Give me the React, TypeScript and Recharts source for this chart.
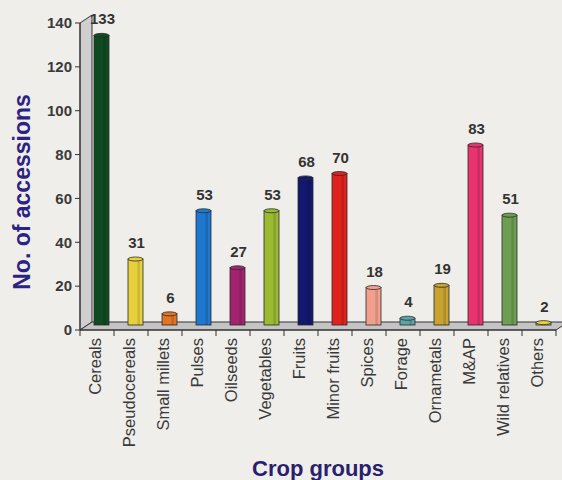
import React from "react";
import {
  BarChart,
  Bar,
  XAxis,
  YAxis,
  Cell,
  LabelList,
  ReferenceArea,
} from "recharts";

const categories = [
  "Cereals",
  "Pseudocereals",
  "Small millets",
  "Pulses",
  "Oilseeds",
  "Vegetables",
  "Fruits",
  "Minor fruits",
  "Spices",
  "Forage",
  "Ornametals",
  "M&AP",
  "Wild relatives",
  "Others",
];
const accessions = [133, 31, 6, 53, 27, 53, 68, 70, 18, 4, 19, 83, 51, 2];
const barColors = [
  "#0f4a22",
  "#e6d13c",
  "#e27424",
  "#1f78cf",
  "#a22470",
  "#9bba32",
  "#12186e",
  "#e0221f",
  "#f2a08e",
  "#5da3aa",
  "#c9a232",
  "#e8336e",
  "#6e9e52",
  "#e8d236",
];
const yTicks = [0, 20, 40, 60, 80, 100, 120, 140];

const data = categories.map((name, i) => ({ name, value: accessions[i] }));

// small 3D shift so bars sit in the middle of the floor
const DX = 4;
const DY = -5;

const CylinderBar = (props: any) => {
  const { x, y, width, height, fill } = props;
  if (height <= 0) return null;
  const ry = 2;
  return (
    <g>
      <rect
        x={x + DX}
        y={y + DY + ry}
        width={width}
        height={height - ry}
        fill={fill}
        stroke="#2a2a2a"
        strokeWidth={0.8}
      />
      <rect x={x + DX + width * 0.62} y={y + DY + ry} width={width * 0.18} height={height - ry} fill="#000" opacity={0.12} />
      <ellipse
        cx={x + DX + width / 2}
        cy={y + DY + ry}
        rx={width / 2}
        ry={ry}
        fill={fill}
        stroke="#2a2a2a"
        strokeWidth={0.8}
      />
    </g>
  );
};

const FloorAndWall = (props: any) => {
  const { x, y, width, height } = props;
  const yb = y + height;
  const d = 12;
  const h = 8;
  const n = categories.length;
  return (
    <g>
      <polygon
        points={`${x},${yb} ${x},${y} ${x + d},${y - h} ${x + d},${yb - h}`}
        fill="#cfcfcf"
        stroke="#333"
        strokeWidth={1}
      />
      <polygon
        points={`${x},${yb} ${x + width},${yb} ${x + width + d},${yb - h} ${x + d},${yb - h}`}
        fill="#c4c4c4"
        stroke="#333"
        strokeWidth={1}
      />
      {Array.from({ length: n + 1 }, (_, i) => (
        <line
          key={i}
          x1={x + (i * width) / n}
          x2={x + (i * width) / n}
          y1={yb}
          y2={yb + 6}
          stroke="#333"
          strokeWidth={1}
        />
      ))}
    </g>
  );
};

const RotatedTick = (props: any) => {
  const { x, y, payload } = props;
  return (
    <g transform={`translate(${x},${y})`}>
      <text
        x={0}
        y={0}
        dy={4}
        textAnchor="end"
        transform="rotate(-90)"
        fill="#3a3a3a"
        fontSize={16.5}
        fontFamily="Liberation Sans, Arial, sans-serif"
      >
        {payload.value}
      </text>
    </g>
  );
};

const ValueLabel = (props: any) => {
  const { x, y, width, value } = props;
  return (
    <text
      x={x + width / 2 + DX + 1}
      y={y + DY - 9}
      textAnchor="middle"
      fill="#333"
      fontSize={15}
      fontWeight="bold"
      fontFamily="Liberation Sans, Arial, sans-serif"
    >
      {value}
    </text>
  );
};

const YTitle = () => (
  <text
    x={0}
    y={0}
    transform="translate(30,192) rotate(-90)"
    textAnchor="middle"
    fill="#2b2384"
    fontSize={23}
    fontWeight="bold"
    fontFamily="Liberation Sans, Arial, sans-serif"
  >
    No. of accessions
  </text>
);

export default function App() {
  return (
    <div
      style={{
        position: "absolute",
        left: 0,
        top: 0,
        width: 562,
        height: 480,
        background: "#efeeea",
        fontFamily: "Liberation Sans, Arial, sans-serif",
      }}
    >
      <BarChart
        width={562}
        height={480}
        data={data}
        margin={{ top: 23, right: 6, bottom: 0, left: 0 }}
        barCategoryGap={0}
      >
        <ReferenceArea y1={0} y2={140} shape={<FloorAndWall />} />
        <XAxis
          dataKey="name"
          interval={0}
          height={150}
          tickLine={false}
          tickSize={6}
          tickMargin={2}
          axisLine={{ stroke: "#333" }}
          tick={<RotatedTick />}
          label={{
            value: "Crop groups",
            position: "insideBottom",
            offset: 4,
            fill: "#2a1f6e",
            fontSize: 22,
            fontWeight: "bold",
          }}
        />
        <YAxis
          domain={[0, 140]}
          ticks={yTicks}
          width={80}
          axisLine={{ stroke: "#333" }}
          tickLine={{ stroke: "#333" }}
          tickSize={5}
          tickMargin={3}
          tick={{ fill: "#3a3a3a", fontSize: 15, fontWeight: "bold" }}
          label={<YTitle />}
        />
        <Bar
          dataKey="value"
          barSize={15}
          shape={<CylinderBar />}
          isAnimationActive={false}
        >
          {data.map((d, i) => (
            <Cell key={d.name} fill={barColors[i]} />
          ))}
          <LabelList dataKey="value" content={<ValueLabel />} />
        </Bar>
      </BarChart>
    </div>
  );
}
